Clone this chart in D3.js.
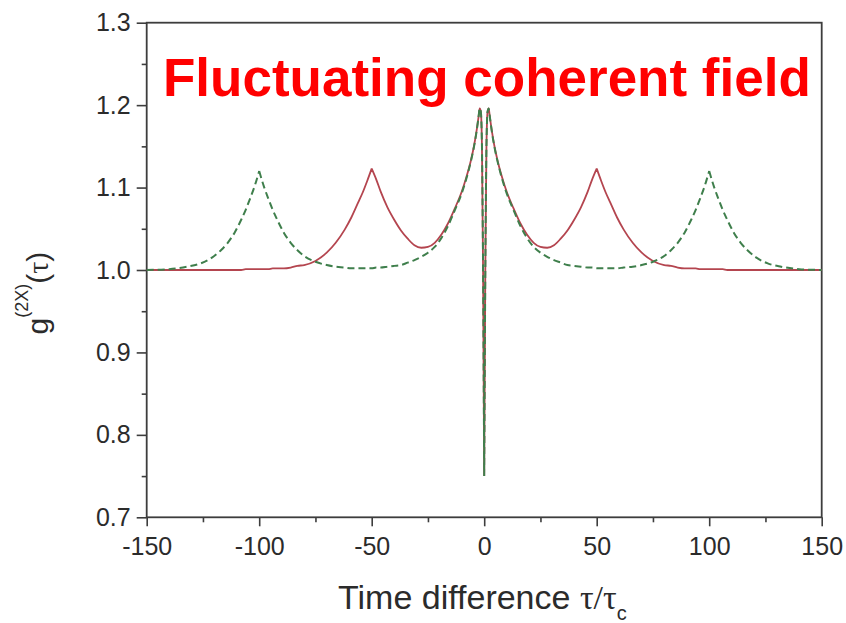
<!DOCTYPE html>
<html>
<head>
<meta charset="utf-8">
<script src="https://cdn.jsdelivr.net/npm/d3@7"></script>
<style>
  html, body { margin: 0; padding: 0; background: #fff; }
  svg { display: block; }
  text { font-family: "Liberation Sans", Arial, sans-serif; }
</style>
</head>
<body>
<svg id="chart" width="846" height="623"></svg>
<script>
// Time difference τ/τc at which both curves are sampled
const taus = [-150,-140,-132,-126,-121,-117,-114,-111,-108,-106,-104,-102,-100,-98,-96,-94,-92,-89,-86,-83,-80,-75,-70,-66,-62,-59,-56,-54,-52,-50,-48,-46,-43,-40,-37,-34,-31,-28,-25,-22,-19,-16,-13,-10,-8,-6,-4.5,-3.5,-2.5,-2,-1.5,-1,-0.5,
              0,
              0.5,1,1.5,2,2.5,3.5,4.5,6,8,10,13,16,19,22,25,28,31,34,37,40,43,46,48,50,52,54,56,59,62,66,70,75,80,83,86,89,92,94,96,98,100,102,104,106,108,111,114,117,121,126,132,140,150];

// g(2X)(τ), solid curve: side peaks at ±50
const solidValues = [1.000,1.000,1.000,1.000,1.000,1.000,1.000,1.000,1.000,1.001,1.001,1.001,1.001,1.001,1.001,1.002,1.002,1.002,1.003,1.005,1.006,1.011,1.021,1.033,1.049,1.064,1.082,1.094,1.108,1.123,1.110,1.095,1.076,1.061,1.048,1.038,1.030,1.027,1.028,1.033,1.043,1.057,1.075,1.095,1.112,1.132,1.151,1.167,1.186,1.196,1.192,1.150,1.000,
                     0.750,
                     1.000,1.150,1.192,1.196,1.186,1.167,1.151,1.132,1.112,1.095,1.075,1.057,1.043,1.033,1.028,1.027,1.030,1.038,1.048,1.061,1.076,1.095,1.110,1.123,1.108,1.094,1.082,1.064,1.049,1.033,1.021,1.011,1.006,1.005,1.003,1.002,1.002,1.002,1.001,1.001,1.001,1.001,1.001,1.001,1.000,1.000,1.000,1.000,1.000,1.000,1.000,1.000,1.000];

// g(2X)(τ), dashed curve: side peaks at ±100
const dashedValues = [1.000,1.001,1.004,1.008,1.015,1.024,1.033,1.045,1.061,1.073,1.087,1.102,1.120,1.102,1.087,1.073,1.061,1.045,1.033,1.024,1.017,1.010,1.006,1.004,1.003,1.002,1.002,1.002,1.002,1.002,1.003,1.003,1.004,1.005,1.006,1.009,1.012,1.016,1.021,1.028,1.039,1.054,1.073,1.093,1.110,1.131,1.150,1.166,1.186,1.196,1.192,1.150,1.000,
                      0.750,
                      1.000,1.150,1.192,1.196,1.186,1.166,1.150,1.131,1.110,1.093,1.073,1.054,1.039,1.028,1.021,1.016,1.012,1.009,1.006,1.005,1.004,1.003,1.003,1.002,1.002,1.002,1.002,1.002,1.003,1.004,1.006,1.010,1.017,1.024,1.033,1.045,1.061,1.073,1.087,1.102,1.120,1.102,1.087,1.073,1.061,1.045,1.033,1.024,1.015,1.008,1.004,1.001,1.000];

// Sharp cusps of each curve (the line is broken there so the corner stays pointed)
const solidCusps = [-50, 0, 50];
const dashedCusps = [-100, 0, 100];

const xTicks = [-150, -100, -50, 0, 50, 100, 150];
const xMinorTicks = [-125, -75, -25, 25, 75, 125];
const yTicks = [0.7, 0.8, 0.9, 1.0, 1.1, 1.2, 1.3];
const yMinorTicks = [0.75, 0.85, 0.95, 1.05, 1.15, 1.25];

const titleText = "Fluctuating coherent field";

const svg = d3.select("#chart");
const plotLeft = 146.7, plotRight = 821.7, plotTop = 22.7, plotBottom = 517.3;

const x = d3.scaleLinear().domain([-150, 150]).range([plotLeft, plotRight]);
const y = d3.scaleLinear().domain([0.7, 1.3]).range([plotBottom, plotTop]);

const axisColor = "#3d3d3d";
const labelColor = "#2b2b2b";

// Axes: major ticks with labels, minor ticks without
function styleAxis(g) {
  g.select(".domain").remove();
  g.selectAll(".tick line").attr("stroke", axisColor).attr("stroke-width", 1.6);
  g.selectAll(".tick text").attr("fill", labelColor).style("font-size", "25px")
    .style("font-family", "'Liberation Sans', Arial, sans-serif");
}

svg.append("g").attr("transform", `translate(${plotLeft},0)`)
  .call(d3.axisLeft(y).tickValues(yTicks).tickSize(10).tickPadding(6).tickFormat(d3.format(".1f")))
  .call(styleAxis);
svg.append("g").attr("transform", `translate(${plotLeft},0)`)
  .call(d3.axisLeft(y).tickValues(yMinorTicks).tickSize(5).tickFormat(""))
  .call(styleAxis);
svg.append("g").attr("transform", `translate(0,${plotBottom})`)
  .call(d3.axisBottom(x).tickValues(xTicks).tickSize(9).tickPadding(11).tickFormat(d => String(d)))
  .call(styleAxis);
svg.append("g").attr("transform", `translate(0,${plotBottom})`)
  .call(d3.axisBottom(x).tickValues(xMinorTicks).tickSize(5).tickFormat(""))
  .call(styleAxis);

// Frame around the plot area
svg.append("rect")
  .attr("x", plotLeft).attr("y", plotTop)
  .attr("width", plotRight - plotLeft).attr("height", plotBottom - plotTop)
  .attr("fill", "none").attr("stroke", axisColor).attr("stroke-width", 1.8);

// Split a series into pieces at its cusps and join them in one path
function curvePath(values, cusps) {
  const pts = taus.map((t, i) => [t, values[i]]);
  const pieces = [];
  let current = [];
  pts.forEach(p => {
    current.push(p);
    if (cusps.includes(p[0])) {
      if (current.length > 1) pieces.push(current);
      current = [p];
    }
  });
  if (current.length > 1) pieces.push(current);
  const line = d3.line().x(d => x(d[0])).y(d => y(d[1])).curve(d3.curveMonotoneX);
  return pieces.map(line).join("");
}

const plot = svg.append("g");

plot.append("path")
  .attr("d", curvePath(solidValues, solidCusps))
  .attr("fill", "none")
  .attr("stroke", "#b4454f")
  .attr("stroke-width", 1.8)
  .attr("stroke-linejoin", "round");

plot.append("path")
  .attr("d", curvePath(dashedValues, dashedCusps))
  .attr("fill", "none")
  .attr("stroke", "#3f7f4c")
  .attr("stroke-width", 2)
  .attr("stroke-dasharray", "7,4")
  .attr("stroke-linejoin", "round");

// Title inside the plot
svg.append("text")
  .attr("x", 163).attr("y", 95.5)
  .attr("fill", "#ff0000")
  .style("font-size", "53px").style("font-weight", "bold")
  .text(titleText);

// X axis title
const xt = svg.append("text")
  .attr("x", 338).attr("y", 609)
  .attr("fill", labelColor)
  .style("font-size", "34px");
xt.append("tspan").text("Time difference ");
xt.append("tspan").style("font-family", "'Liberation Serif', serif").text("τ/τ");
xt.append("tspan").attr("dy", 11).style("font-size", "20px").text("c");

// Y axis title
const yt = svg.append("text")
  .attr("transform", "translate(48,293) rotate(-90)")
  .attr("text-anchor", "middle")
  .attr("fill", labelColor)
  .style("font-size", "30px");
yt.append("tspan").text("g");
yt.append("tspan").attr("dy", -20).style("font-size", "18px").text("(2X)");
yt.append("tspan").attr("dy", 20).text("(");
yt.append("tspan").style("font-family", "'Liberation Serif', serif").text("τ");
yt.append("tspan").text(")");
</script>
</body>
</html>
